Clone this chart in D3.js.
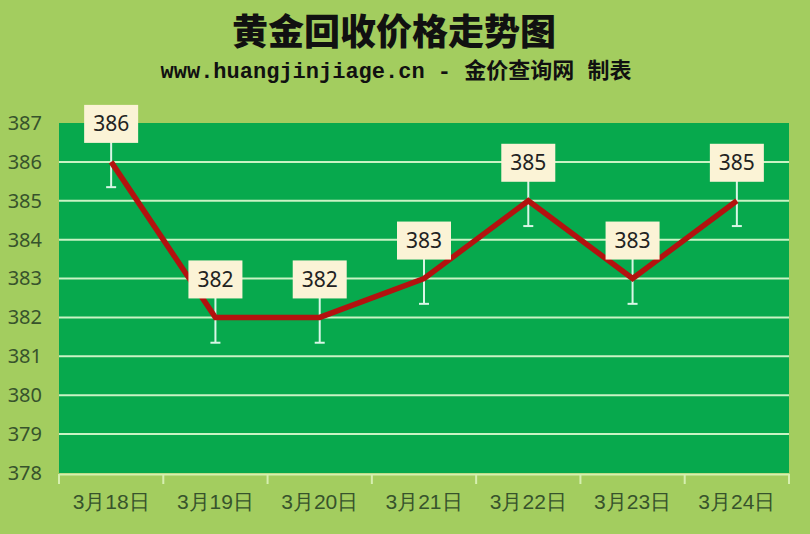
<!DOCTYPE html>
<html>
<head>
	<meta charset="utf-8">
	<title>黄金回收价格走势图</title>
	<script type="text/javascript" src="https://cdn.jsdelivr.net/npm/d3@7"></script>
	<style>
		body { margin: 0; background: #a3cd5f; }
	</style>
</head>
<body>
	<div id="chart"></div>
	<script>

		// data
		const dates  = ["3月18日", "3月19日", "3月20日", "3月21日", "3月22日", "3月23日", "3月24日"];
		const prices = [386, 382, 382, 383, 385, 383, 385];
		const yTicks = [378, 379, 380, 381, 382, 383, 384, 385, 386, 387];
		const errAmount = 0.65;

		const width  = 810;
		const height = 534;
		const margin = { top: 123, right: 21, bottom: 60, left: 59 };

		const svg = d3.select("#chart")
			.append("svg")
			.attr("width", width)
			.attr("height", height)
			.style("font-family", "'Noto Sans CJK SC', 'Noto Sans', sans-serif");

		svg.append("rect")
			.attr("width", width).attr("height", height)
			.attr("fill", "#a3cd5f");

		// titles
		svg.append("text")
			.attr("x", 394).attr("y", 45)
			.attr("text-anchor", "middle")
			.attr("font-size", 36).attr("font-weight", 900)
			.attr("fill", "#111")
			.text("黄金回收价格走势图");

		svg.append("text")
			.attr("x", 396).attr("y", 78)
			.attr("text-anchor", "middle")
			.attr("font-size", 22).attr("font-weight", 700)
			.attr("font-family", "'Liberation Mono', 'Noto Sans CJK SC', monospace")
			.attr("fill", "#111")
			.text("www.huangjinjiage.cn - 金价查询网 制表");

		const x = d3.scaleBand(dates, [margin.left, width - margin.right]);
		const y = d3.scaleLinear([378, 387], [height - margin.bottom - 1, margin.top]);

		// plot area
		svg.append("rect")
			.attr("x", margin.left).attr("y", margin.top)
			.attr("width", width - margin.left - margin.right)
			.attr("height", y(378) - margin.top)
			.attr("fill", "#07a94d");

		// grid
		svg.append("g")
			.selectAll("line")
			.data(yTicks.filter(d => d > 378 && d < 387))
			.join("line")
			.attr("x1", margin.left).attr("x2", width - margin.right)
			.attr("y1", d => y(d)).attr("y2", d => y(d))
			.attr("stroke", "#c9f3c4")
			.attr("stroke-width", 2);

		// y axis
		svg.append("g")
			.attr("transform", `translate(${margin.left - 17},0)`)
			.call(d3.axisLeft(y).tickValues(yTicks).tickSize(0).tickPadding(0))
			.call(g => g.select(".domain").remove())
			.call(g => g.selectAll("text")
				.attr("font-size", 20)
				.attr("fill", "#37532c")
				.attr("font-family", "'Noto Sans', sans-serif"));

		// x axis
		svg.append("g")
			.attr("transform", `translate(0,${y(378) + 1})`)
			.call(d3.axisBottom(x).tickSize(0).tickPadding(20))
			.call(g => g.select(".domain").attr("stroke", "#d6efb0").attr("stroke-width", 2))
			.call(g => g.selectAll("text")
				.attr("font-size", 21)
				.attr("fill", "#37532c"))
			.call(g => g.selectAll(".xtick")
				.data(d3.range(dates.length + 1))
				.join("line")
				.attr("class", "xtick")
				.attr("x1", i => margin.left + i * x.step())
				.attr("x2", i => margin.left + i * x.step())
				.attr("y1", 0).attr("y2", 10)
				.attr("stroke", "#d6efb0")
				.attr("stroke-width", 2));

		const cx = (d, i) => x(dates[i]) + x.bandwidth() / 2;

		// error bars
		const err = svg.append("g")
			.attr("stroke", "#d9f6e6")
			.attr("stroke-width", 2);
		err.selectAll(".v")
			.data(prices)
			.join("line")
			.attr("x1", cx).attr("x2", cx)
			.attr("y1", d => y(d + errAmount)).attr("y2", d => y(d - errAmount));
		err.selectAll(".cap")
			.data(prices)
			.join("line")
			.attr("x1", (d, i) => cx(d, i) - 5).attr("x2", (d, i) => cx(d, i) + 5)
			.attr("y1", d => y(d - errAmount)).attr("y2", d => y(d - errAmount));

		// line
		svg.append("path")
			.datum(prices)
			.attr("fill", "none")
			.attr("stroke", "#b3120f")
			.attr("stroke-width", 5.5)
			.attr("stroke-linejoin", "miter")
			.attr("d", d3.line().x(cx).y(d => y(d)));

		// labels
		const lab = svg.append("g")
			.selectAll("g")
			.data(prices)
			.join("g")
			.attr("transform", (d, i) => `translate(${cx(d, i)},${y(d) - 38})`);
		lab.append("rect")
			.attr("x", -27).attr("y", -19)
			.attr("width", 54).attr("height", 38)
			.attr("fill", "#fbf3d6");
		lab.append("text")
			.attr("text-anchor", "middle")
			.attr("dy", "0.35em")
			.attr("font-size", 21)
			.attr("font-family", "'Noto Sans', sans-serif")
			.attr("fill", "#222")
			.text(d => d);

	</script>
</body>
</html>
